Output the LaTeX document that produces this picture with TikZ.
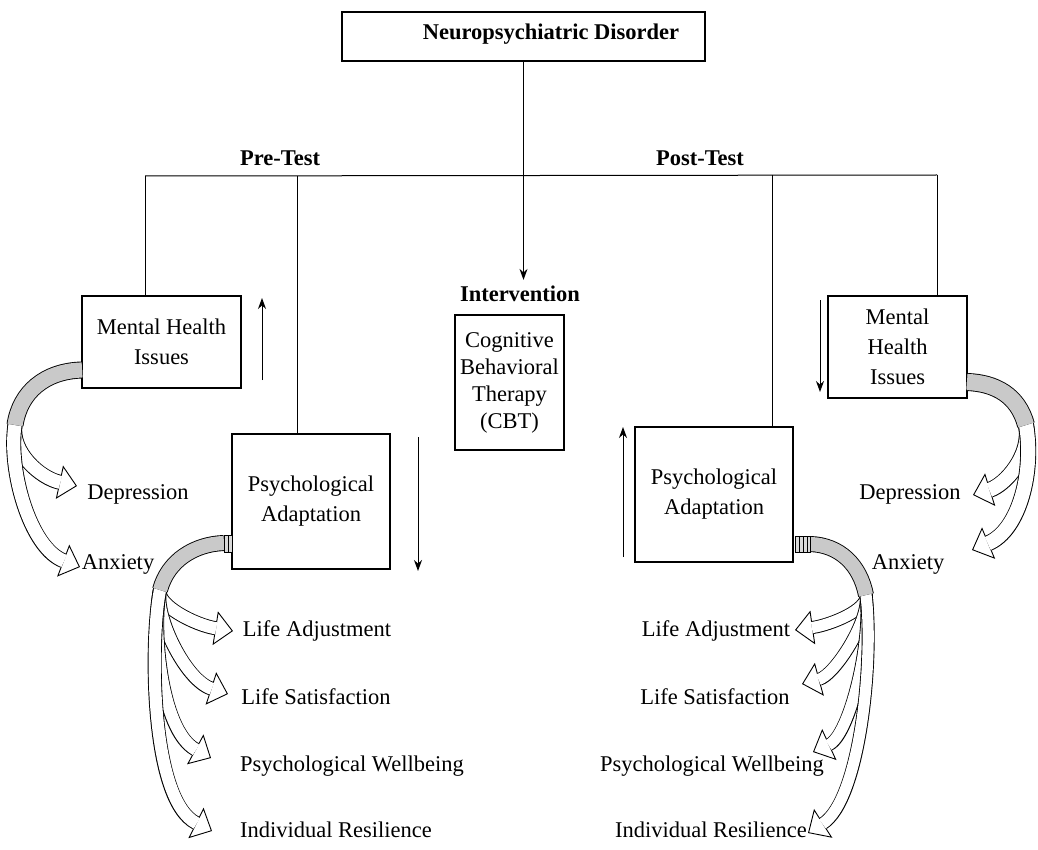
\documentclass[tikz,border=0pt]{standalone}
\usepackage{fontspec}
\setmainfont{Liberation Serif}
\usetikzlibrary{arrows.meta}
\tikzset{
  box/.style={draw, line width=1.1pt, inner sep=0pt, align=center, font=\fontsize{22.5}{30}\selectfont},
  lbl/.style={inner sep=0pt, font=\fontsize{22.5}{30}\selectfont},
  bold/.style={inner sep=0pt, font=\fontsize{22.5}{30}\selectfont\bfseries},
  conn/.style={line width=1pt},
  arr/.style={line width=1pt, -{Stealth[length=11pt,width=8pt]}},
}
\newcommand\blockarr[3]{%
  \draw[line width=#1pt, -{Triangle[width=34pt,length=18pt,fill=white,line width=0.9pt]}] #3;
  \draw[line width=#2pt, white, shorten >=17pt] #3;}
\newcommand\grayband[3]{%
  \draw[line width=#1pt] #3;
  \draw[line width=#2pt, gray!42] #3;}
\begin{document}
\begin{tikzpicture}[x=1pt,y=-1pt]
\useasboundingbox (0,0) rectangle (1038,850);
% top box
\node[box, minimum width=363pt, minimum height=49pt] (nd) at (523.5,36.5) {};
\node[bold] (ndt) at (551,34) {Neuropsychiatric Disorder};
% labels
\node[bold] (pre) at (280,158) {Pre-Test};
\node[bold] (post) at (700,158) {Post-Test};
\node[bold] (intv) at (520,294) {Intervention};
% boxes
\node[box, minimum width=159pt, minimum height=92pt] (lmh) at (161.5,342) {Mental Health\\Issues};
\node[box, minimum width=158pt, minimum height=135pt] (lpa) at (311,501.5) {Psychological\\Adaptation};
\node[box, minimum width=109pt, minimum height=135pt, font=\fontsize{22.5}{27}\selectfont] (cbt) at (509.5,382.5) {Cognitive\\Behavioral\\Therapy\\(CBT)};
\node[box, minimum width=158pt, minimum height=135pt] (rpa) at (714,494.5) {Psychological\\Adaptation};
\node[box, minimum width=139pt, minimum height=102pt] (rmh) at (897.5,347) {Mental\\Health\\Issues};
% outcome labels
\node[lbl] (ldep) at (138,494) {Depression};
\node[lbl] (lanx) at (118,564) {Anxiety};
\node[lbl] (lla) at (317,631) {Life Adjustment};
\node[lbl] (lls) at (316,697) {Life Satisfaction};
\node[lbl] (lpw) at (352,766) {Psychological Wellbeing};
\node[lbl] (lir) at (336,830) {Individual Resilience};
\node[lbl] (rdep) at (910,494) {Depression};
\node[lbl] (ranx) at (908,564) {Anxiety};
\node[lbl] (rla) at (716,631) {Life Adjustment};
\node[lbl] (rls) at (715,697) {Life Satisfaction};
\node[lbl] (rpw) at (712,766) {Psychological Wellbeing};
\node[lbl] (rir) at (711,830) {Individual Resilience};
% tree lines
\coordinate (hl) at (145,176);
\coordinate (hr) at (937,175);
\draw[conn] (hl) -- (hr);
\draw[arr] (nd.south) -- ([yshift=6pt]intv.north -| nd.south);
\draw[conn] (hl) -- (hl |- lmh.north);
\draw[conn] (297,176) -- (lpa.north -| 297,0);
\draw[conn] (772,175) -- (rpa.north -| 772,0);
\draw[conn] (hr) -- (hr |- rmh.north);
% change arrows
\coordinate (a1s) at (262,380); \coordinate (a1e) at (262,298);
\coordinate (a2s) at (418,437); \coordinate (a2e) at (418,571);
\coordinate (a3s) at (623,557); \coordinate (a3e) at (623,427);
\coordinate (a4s) at (820,300); \coordinate (a4e) at (820,392);
\draw[arr] (a1s) -- (a1e);
\draw[arr] (a2s) -- (a2e);
\draw[arr] (a3s) -- (a3e);
\draw[arr] (a4s) -- (a4e);
% ---- left mental health curved arrows
\blockarr{15}{13.2}{(82,370) .. controls (45,371) and (20,392) .. (15,425) .. controls (11,452) and (40,478) .. (77,486)}
\blockarr{15}{13.2}{(82,370) .. controls (45,371) and (20,392) .. (15,425) .. controls (8,470) and (30,548) .. (80,567)}
\grayband{17}{15.2}{(82,370) .. controls (45,371) and (20,392) .. (15,425)}
% ---- left psychological adaptation curved arrows
\blockarr{14}{12.2}{(224,543) .. controls (195,544) and (168,560) .. (160,590) .. controls (156,605) and (195,625) .. (233,631)}
\blockarr{14}{12.2}{(224,543) .. controls (195,544) and (168,560) .. (160,590) .. controls (154,615) and (185,680) .. (228,694)}
\blockarr{14}{12.2}{(224,543) .. controls (195,544) and (168,560) .. (160,590) .. controls (152,625) and (160,730) .. (211,758)}
\blockarr{14}{12.2}{(224,543) .. controls (195,544) and (168,560) .. (160,590) .. controls (150,640) and (150,800) .. (212,831)}
\grayband{16}{14.2}{(224,543) .. controls (195,544) and (168,560) .. (160,590)}
\draw[line width=0.8pt, fill=gray!30] (224,535) rectangle (232,552);
\draw[line width=0.6pt] (228,535) -- (228,552);
% ---- right psychological adaptation curved arrows
\blockarr{13}{11.2}{(810,544) .. controls (840,545) and (860,565) .. (866,595) .. controls (868,610) and (830,625) .. (795,630)}
\blockarr{13}{11.2}{(810,544) .. controls (840,545) and (860,565) .. (866,595) .. controls (870,620) and (835,675) .. (802,684)}
\blockarr{13}{11.2}{(810,544) .. controls (840,545) and (860,565) .. (866,595) .. controls (872,640) and (850,735) .. (813,752)}
\blockarr{13}{11.2}{(810,544) .. controls (840,545) and (860,565) .. (866,595) .. controls (874,660) and (860,800) .. (808,833)}
\grayband{16}{14.2}{(810,544) .. controls (840,545) and (860,565) .. (866,595)}
\draw[line width=0.8pt, fill=gray!30] (795,536) rectangle (810,552);
\draw[line width=0.6pt] (799,536) -- (799,552) (803,536) -- (803,552) (807,536) -- (807,552);
% ---- right mental health curved arrows
\blockarr{16}{14.2}{(967,382) .. controls (995,383) and (1018,395) .. (1026,425) .. controls (1032,455) and (1005,485) .. (973,495)}
\blockarr{16}{14.2}{(967,382) .. controls (995,383) and (1018,395) .. (1026,425) .. controls (1034,470) and (1020,530) .. (972,550)}
\grayband{18}{16.2}{(967,382) .. controls (995,383) and (1018,395) .. (1026,425)}
\end{tikzpicture}
\end{document}
